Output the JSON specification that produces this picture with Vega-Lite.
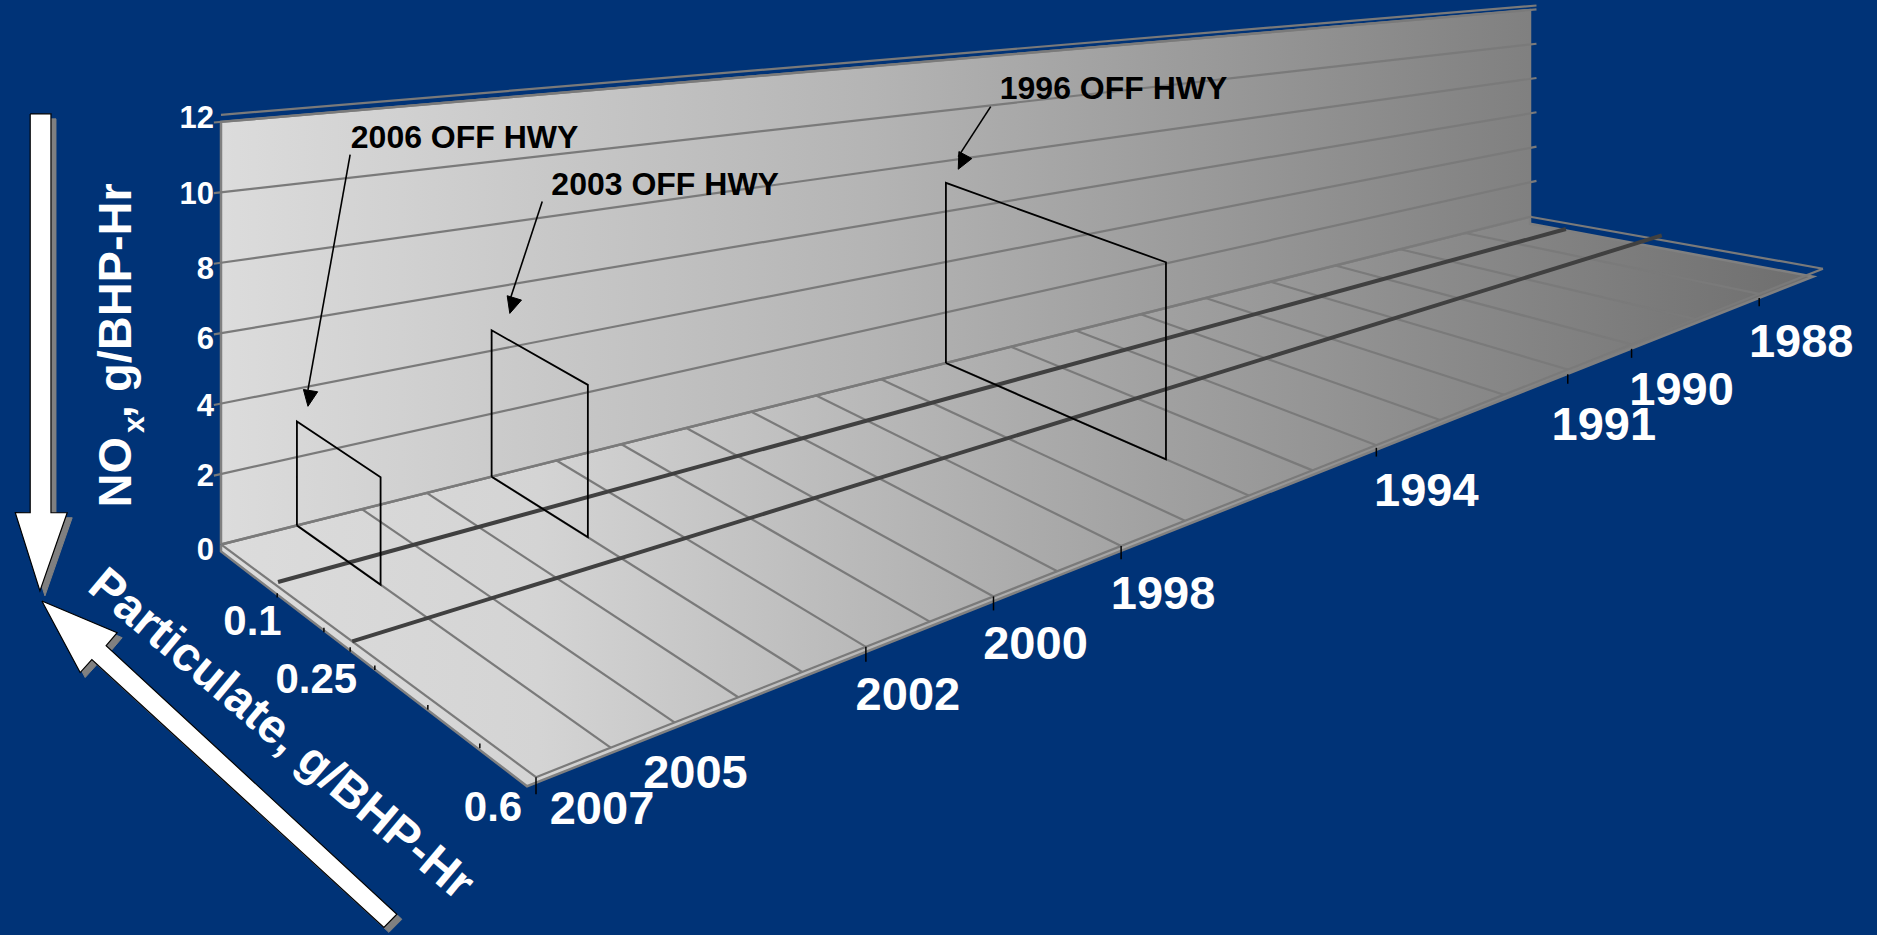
{"$schema":"https://vega.github.io/schema/vega-lite/v6.json","width":1877,"height":935,"autosize":{"type":"fit","contains":"padding"},"padding":0,"background":"#003377","config":{"view":{"stroke":null}},
"data":{"values":[
{"group":"floor","id":"f","seq":1,"year":2007.17,"pm":0,"nox":0},{"group":"floor","id":"f","seq":2,"year":2007.17,"pm":0,"nox":-0.2},{"group":"floor","id":"f","seq":3,"year":2007.31,"pm":0.6,"nox":-0.14},{"group":"floor","id":"f","seq":4,"year":1987.157,"pm":0.6,"nox":-0.2},{"group":"floor","id":"f","seq":5,"year":1987,"pm":0,"nox":-0.4},{"group":"floor","id":"f","seq":6,"year":1987,"pm":0,"nox":0},{"group":"floor","id":"f","seq":7,"year":2007.17,"pm":0,"nox":0},
{"group":"wall","id":"w","seq":1,"year":2007.17,"pm":0,"nox":0},{"group":"wall","id":"w","seq":2,"year":2007.17,"pm":0,"nox":12},{"group":"wall","id":"w","seq":3,"year":1987,"pm":0,"nox":12},{"group":"wall","id":"w","seq":4,"year":1987,"pm":0,"nox":0},{"group":"wall","id":"w","seq":5,"year":2007.17,"pm":0,"nox":0},
{"group":"grid","id":"n0","year":2007.17,"pm":0,"nox":0},{"group":"grid","id":"n0","year":1987,"pm":0,"nox":0},
{"group":"grid","id":"n2","year":2007.28,"pm":0,"nox":2},{"group":"grid","id":"n2","year":1986.9,"pm":0,"nox":2},
{"group":"grid","id":"n4","year":2007.28,"pm":0,"nox":4},{"group":"grid","id":"n4","year":1986.9,"pm":0,"nox":4},
{"group":"grid","id":"n6","year":2007.28,"pm":0,"nox":6},{"group":"grid","id":"n6","year":1986.9,"pm":0,"nox":6},
{"group":"grid","id":"n8","year":2007.28,"pm":0,"nox":8},{"group":"grid","id":"n8","year":1986.9,"pm":0,"nox":8},
{"group":"grid","id":"n10","year":2007.28,"pm":0,"nox":10},{"group":"grid","id":"n10","year":1986.9,"pm":0,"nox":10},
{"group":"grid","id":"n12","year":2007.28,"pm":0,"nox":12},{"group":"grid","id":"n12","year":1986.9,"pm":0,"nox":12},
{"group":"grid","id":"y2006","year":2006,"pm":0,"nox":0},{"group":"grid","id":"y2006","year":2006,"pm":0.6,"nox":0},
{"group":"grid","id":"y2005","year":2005,"pm":0,"nox":0},{"group":"grid","id":"y2005","year":2005,"pm":0.6,"nox":0},
{"group":"grid","id":"y2004","year":2004,"pm":0,"nox":0},{"group":"grid","id":"y2004","year":2004,"pm":0.6,"nox":0},
{"group":"grid","id":"y2003","year":2003,"pm":0,"nox":0},{"group":"grid","id":"y2003","year":2003,"pm":0.6,"nox":0},
{"group":"grid","id":"y2002","year":2002,"pm":0,"nox":0},{"group":"grid","id":"y2002","year":2002,"pm":0.6,"nox":0},
{"group":"grid","id":"y2001","year":2001,"pm":0,"nox":0},{"group":"grid","id":"y2001","year":2001,"pm":0.6,"nox":0},
{"group":"grid","id":"y2000","year":2000,"pm":0,"nox":0},{"group":"grid","id":"y2000","year":2000,"pm":0.6,"nox":0},
{"group":"grid","id":"y1999","year":1999,"pm":0,"nox":0},{"group":"grid","id":"y1999","year":1999,"pm":0.6,"nox":0},
{"group":"grid","id":"y1998","year":1998,"pm":0,"nox":0},{"group":"grid","id":"y1998","year":1998,"pm":0.6,"nox":0},
{"group":"grid","id":"y1997","year":1997,"pm":0,"nox":0},{"group":"grid","id":"y1997","year":1997,"pm":0.6,"nox":0},
{"group":"grid","id":"y1996","year":1996,"pm":0,"nox":0},{"group":"grid","id":"y1996","year":1996,"pm":0.6,"nox":0},
{"group":"grid","id":"y1995","year":1995,"pm":0,"nox":0},{"group":"grid","id":"y1995","year":1995,"pm":0.6,"nox":0},
{"group":"grid","id":"y1994","year":1994,"pm":0,"nox":0},{"group":"grid","id":"y1994","year":1994,"pm":0.6,"nox":0},
{"group":"grid","id":"y1993","year":1993,"pm":0,"nox":0},{"group":"grid","id":"y1993","year":1993,"pm":0.6,"nox":0},
{"group":"grid","id":"y1992","year":1992,"pm":0,"nox":0},{"group":"grid","id":"y1992","year":1992,"pm":0.6,"nox":0},
{"group":"grid","id":"y1991","year":1991,"pm":0,"nox":0},{"group":"grid","id":"y1991","year":1991,"pm":0.6,"nox":0},
{"group":"grid","id":"y1990","year":1990,"pm":0,"nox":0},{"group":"grid","id":"y1990","year":1990,"pm":0.6,"nox":0},
{"group":"grid","id":"y1989","year":1989,"pm":0,"nox":0},{"group":"grid","id":"y1989","year":1989,"pm":0.6,"nox":0},
{"group":"grid","id":"y1988","year":1988,"pm":0,"nox":0},{"group":"grid","id":"y1988","year":1988,"pm":0.6,"nox":0},
{"group":"grid","id":"e1","year":2007.17,"pm":0.6,"nox":0},{"group":"grid","id":"e1","year":1987,"pm":0.6,"nox":0},
{"group":"grid","id":"e2","year":2007.17,"pm":0,"nox":0},{"group":"grid","id":"e2","year":2007.17,"pm":0.6,"nox":0},
{"group":"grid","id":"e3","year":1987,"pm":0,"nox":0},{"group":"grid","id":"e3","year":1987,"pm":0.6,"nox":0},
{"group":"grid","id":"e4","year":2007.17,"pm":0,"nox":12.2},{"group":"grid","id":"e4","year":1986.9,"pm":0,"nox":12.23},
{"group":"std","id":"pm0.1","year":2007.1,"pm":0.1,"nox":0},{"group":"std","id":"pm0.1","year":1987.2,"pm":0.1,"nox":0},
{"group":"std","id":"pm0.25","year":2007.17,"pm":0.25,"nox":0},{"group":"std","id":"pm0.25","year":1986.85,"pm":0.25,"nox":0},
{"group":"box","id":"2006","seq":1,"year":2006,"pm":0,"nox":0},{"group":"box","id":"2006","seq":2,"year":2006,"pm":0,"nox":3.04},{"group":"box","id":"2006","seq":3,"year":2006,"pm":0.16,"nox":3.04},{"group":"box","id":"2006","seq":4,"year":2006,"pm":0.16,"nox":0},{"group":"box","id":"2006","seq":5,"year":2006,"pm":0,"nox":0},
{"group":"box","id":"2003","seq":1,"year":2003,"pm":0,"nox":0},{"group":"box","id":"2003","seq":2,"year":2003,"pm":0,"nox":4.65},{"group":"box","id":"2003","seq":3,"year":2003,"pm":0.186,"nox":4.65},{"group":"box","id":"2003","seq":4,"year":2003,"pm":0.186,"nox":0},{"group":"box","id":"2003","seq":5,"year":2003,"pm":0,"nox":0},
{"group":"box","id":"1996","seq":1,"year":1996,"pm":0,"nox":0},{"group":"box","id":"1996","seq":2,"year":1996,"pm":0,"nox":7.13},{"group":"box","id":"1996","seq":3,"year":1996,"pm":0.436,"nox":7.13},{"group":"box","id":"1996","seq":4,"year":1996,"pm":0.436,"nox":0},{"group":"box","id":"1996","seq":5,"year":1996,"pm":0,"nox":0},
{"group":"tick","id":"t2007","year":2007.17,"pm":0.6,"nox":0},{"group":"tick","id":"t2007","year":2007.17,"pm":0.6,"nox":-0.43},
{"group":"tick","id":"t2002","year":2002,"pm":0.6,"nox":0},{"group":"tick","id":"t2002","year":2002,"pm":0.6,"nox":-0.43},
{"group":"tick","id":"t2000","year":2000,"pm":0.6,"nox":0},{"group":"tick","id":"t2000","year":2000,"pm":0.6,"nox":-0.43},
{"group":"tick","id":"t1998","year":1998,"pm":0.6,"nox":0},{"group":"tick","id":"t1998","year":1998,"pm":0.6,"nox":-0.43},
{"group":"tick","id":"t1994","year":1994,"pm":0.6,"nox":-0.1},{"group":"tick","id":"t1994","year":1994,"pm":0.6,"nox":-0.43},
{"group":"tick","id":"t1991","year":1991,"pm":0.6,"nox":-0.2},{"group":"tick","id":"t1991","year":1991,"pm":0.6,"nox":-0.6},
{"group":"tick","id":"t1990","year":1990,"pm":0.6,"nox":-0.2},{"group":"tick","id":"t1990","year":1990,"pm":0.6,"nox":-0.6},
{"group":"tick","id":"t1988","year":1988,"pm":0.6,"nox":-0.2},{"group":"tick","id":"t1988","year":1988,"pm":0.6,"nox":-0.6},
{"group":"tick","id":"p0.1","year":2007.17,"pm":0.107,"nox":-0.2},{"group":"tick","id":"p0.1","year":2007.17,"pm":0.107,"nox":-0.32},
{"group":"tick","id":"p0.2","year":2007.17,"pm":0.196,"nox":-0.2},{"group":"tick","id":"p0.2","year":2007.17,"pm":0.196,"nox":-0.32},
{"group":"tick","id":"p0.25","year":2007.17,"pm":0.246,"nox":-0.2},{"group":"tick","id":"p0.25","year":2007.17,"pm":0.246,"nox":-0.32},
{"group":"tick","id":"p0.3","year":2007.17,"pm":0.293,"nox":-0.2},{"group":"tick","id":"p0.3","year":2007.17,"pm":0.293,"nox":-0.32},
{"group":"tick","id":"p0.4","year":2007.17,"pm":0.394,"nox":-0.2},{"group":"tick","id":"p0.4","year":2007.17,"pm":0.394,"nox":-0.32},
{"group":"tick","id":"p0.5","year":2007.17,"pm":0.493,"nox":-0.2},{"group":"tick","id":"p0.5","year":2007.17,"pm":0.493,"nox":-0.32},
{"group":"callout","id":"c2006","year":2005.18,"pm":0,"nox":10.69},{"group":"callout","id":"c2006","year":2005.83,"pm":0,"nox":3.9},
{"group":"callout","id":"c2003","year":2002.22,"pm":0,"nox":8.52},{"group":"callout","id":"c2003","year":2002.72,"pm":0,"nox":5.5},
{"group":"callout","id":"c1996","year":1995.31,"pm":0,"nox":9.95},{"group":"callout","id":"c1996","year":1995.81,"pm":0,"nox":8.1},
{"group":"head","id":"h2006","seq":1,"year":2005.83,"pm":0,"nox":3.42},{"group":"head","id":"h2006","seq":2,"year":2005.68,"pm":0,"nox":3.79},{"group":"head","id":"h2006","seq":3,"year":2005.9,"pm":0,"nox":3.94},{"group":"head","id":"h2006","seq":4,"year":2005.83,"pm":0,"nox":3.42},
{"group":"head","id":"h2003","seq":1,"year":2002.72,"pm":0,"nox":5.08},{"group":"head","id":"h2003","seq":2,"year":2002.54,"pm":0,"nox":5.44},{"group":"head","id":"h2003","seq":3,"year":2002.76,"pm":0,"nox":5.66},{"group":"head","id":"h2003","seq":4,"year":2002.72,"pm":0,"nox":5.08},
{"group":"head","id":"h1996","seq":1,"year":1995.81,"pm":0,"nox":7.6},{"group":"head","id":"h1996","seq":2,"year":1995.6,"pm":0,"nox":7.95},{"group":"head","id":"h1996","seq":3,"year":1995.8,"pm":0,"nox":8.3},{"group":"head","id":"h1996","seq":4,"year":1995.81,"pm":0,"nox":7.6},
{"group":"arrow","id":"aN","seq":1,"year":2010.11,"pm":0,"nox":12.64},{"group":"arrow","id":"aN","seq":2,"year":2009.79,"pm":0,"nox":12.6},{"group":"arrow","id":"aN","seq":3,"year":2009.79,"pm":0,"nox":1.98},{"group":"arrow","id":"aN","seq":4,"year":2009.54,"pm":0,"nox":1.88},{"group":"arrow","id":"aN","seq":5,"year":2009.96,"pm":0,"nox":-0.03},{"group":"arrow","id":"aN","seq":6,"year":2010.34,"pm":0,"nox":2.19},{"group":"arrow","id":"aN","seq":7,"year":2010.11,"pm":0,"nox":2.1},{"group":"arrow","id":"aN","seq":8,"year":2010.11,"pm":0,"nox":12.64},
{"group":"arrow","id":"aP","seq":1,"year":2009.93,"pm":0,"nox":-0.31},{"group":"arrow","id":"aP","seq":2,"year":2008.77,"pm":0,"nox":-1.7},{"group":"arrow","id":"aP","seq":3,"year":2008.94,"pm":0,"nox":-1.97},{"group":"arrow","id":"aP","seq":4,"year":2004.46,"pm":0,"nox":-12.62},{"group":"arrow","id":"aP","seq":5,"year":2004.66,"pm":0,"nox":-12.85},{"group":"arrow","id":"aP","seq":6,"year":2009.16,"pm":0,"nox":-2.24},{"group":"arrow","id":"aP","seq":7,"year":2009.34,"pm":0,"nox":-2.5},{"group":"arrow","id":"aP","seq":8,"year":2009.93,"pm":0,"nox":-0.31},
{"group":"noxC","label":"0","year":2007.17,"pm":0,"nox":0},{"group":"noxB","label":"2","year":2007.17,"pm":0,"nox":2},{"group":"noxB","label":"4","year":2007.17,"pm":0,"nox":4},{"group":"noxC","label":"6","year":2007.17,"pm":0,"nox":6},{"group":"noxC","label":"8","year":2007.17,"pm":0,"nox":8},{"group":"noxB","label":"10","year":2007.17,"pm":0,"nox":10},{"group":"noxA","label":"12","year":2007.17,"pm":0,"nox":12},
{"group":"yearA","label":"2002","year":2002,"pm":0.6,"nox":0},{"group":"yearA","label":"2000","year":2000,"pm":0.6,"nox":0},{"group":"yearA","label":"1998","year":1998,"pm":0.6,"nox":0},{"group":"yearA","label":"1988","year":1988,"pm":0.6,"nox":0},
{"group":"yearB","label":"1994","year":1994,"pm":0.6,"nox":0},{"group":"yearB","label":"1990","year":1990,"pm":0.6,"nox":0},
{"group":"yearC","label":"1991","year":1991,"pm":0.6,"nox":0},
{"group":"yearD","label":"2005","year":2005,"pm":0.6,"nox":0},
{"group":"yearE","label":"2007","year":2007.17,"pm":0.6,"nox":0},
{"group":"pmA","label":"0.1","year":2007.17,"pm":0.1,"nox":0},
{"group":"pmB","label":"0.25","year":2007.17,"pm":0.25,"nox":0},
{"group":"pmC","label":"0.6","year":2007.17,"pm":0.6,"nox":0},
{"group":"calloutText","label":"2006 OFF HWY","year":2005.17,"pm":0,"nox":11.22},
{"group":"calloutText","label":"2003 OFF HWY","year":2002.08,"pm":0,"nox":9.07},
{"group":"calloutText","label":"1996 OFF HWY","year":1995.17,"pm":0,"nox":10.68},
{"group":"titleV","label":"NO","year":2008.55,"pm":0,"nox":1.63},
{"group":"titleV","label":", g/BHP-Hr","year":2008.55,"pm":0,"nox":4.08},
{"group":"titleSub","label":"x","year":2008.35,"pm":0,"nox":3.6},
{"group":"titleD","label":"Particulate, g/BHP-Hr","year":2006.25,"pm":0,"nox":-5.98}
]},
"transform":[
{"calculate":"(2007.17-datum.year)/20.17","as":"r"},
{"calculate":"datum.pm/0.6","as":"v"},
{"calculate":"(221+1309*datum.r)*(1-datum.v)+(536+1287*datum.r)*datum.v","as":"px"},
{"calculate":"(545-328*datum.r)*(1-datum.v)+(778-509*datum.r)*datum.v-(423-216*datum.r)*(1+0.13*datum.v)*datum.nox/12","as":"py"}
],
"encoding":{
"x":{"field":"px","type":"quantitative","axis":null,"scale":{"domain":[0,1877],"nice":false,"zero":false}},
"y":{"field":"py","type":"quantitative","axis":null,"scale":{"domain":[935,0],"nice":false,"zero":false}}
},
"layer":[
{"transform":[{"filter":"datum.group==='floor'"}],"mark":{"type":"line","strokeWidth":2.5,"stroke":"#808080","fill":{"x1":0,"y1":0,"x2":1,"y2":0,"gradient":"linear","stops":[{"offset":0,"color":"#dcdcdc"},{"offset":0.2,"color":"#d4d4d4"},{"offset":0.5,"color":"#acacac"},{"offset":1,"color":"#6e6e6e"}]}},"encoding":{"order":{"field":"seq"}}},
{"transform":[{"filter":"datum.group==='wall'"}],"mark":{"type":"line","strokeWidth":2.5,"stroke":"#808080","fill":{"x1":0,"y1":0,"x2":1,"y2":0,"gradient":"linear","stops":[{"offset":0,"color":"#dcdcdc"},{"offset":0.5,"color":"#b4b4b4"},{"offset":1,"color":"#808080"}]}},"encoding":{"order":{"field":"seq"}}},
{"transform":[{"filter":"datum.group==='grid'"}],"mark":{"type":"line","stroke":"#7a7a7a","strokeWidth":2.2},"encoding":{"detail":{"field":"id"}}},
{"transform":[{"filter":"datum.group==='std'"}],"mark":{"type":"line","stroke":"#404040","strokeWidth":4},"encoding":{"detail":{"field":"id"}}},
{"transform":[{"filter":"datum.group==='box'"}],"mark":{"type":"line","stroke":"#000000","strokeWidth":1.8},"encoding":{"detail":{"field":"id"},"order":{"field":"seq"}}},
{"transform":[{"filter":"datum.group==='tick'"}],"mark":{"type":"line","stroke":"#000000","strokeWidth":1.5},"encoding":{"detail":{"field":"id"}}},
{"transform":[{"filter":"datum.group==='callout'"}],"mark":{"type":"line","stroke":"#000000","strokeWidth":1.6},"encoding":{"detail":{"field":"id"}}},
{"transform":[{"filter":"datum.group==='head'"}],"mark":{"type":"line","stroke":"#000000","strokeWidth":1,"fill":"#000000"},"encoding":{"detail":{"field":"id"},"order":{"field":"seq"}}},
{"transform":[{"filter":"datum.group==='arrow'"}],"mark":{"type":"line","stroke":"#808080","strokeWidth":1,"fill":"#808080","xOffset":5,"yOffset":5},"encoding":{"detail":{"field":"id"},"order":{"field":"seq"}}},
{"transform":[{"filter":"datum.group==='arrow'"}],"mark":{"type":"line","stroke":"#000000","strokeWidth":1.2,"fill":"#ffffff"},"encoding":{"detail":{"field":"id"},"order":{"field":"seq"}}},
{"transform":[{"filter":"datum.group==='noxA'"}],"mark":{"type":"text","font":"Liberation Sans","fontWeight":"bold","fontSize":31,"fill":"#ffffff","align":"right","baseline":"middle","dx":-7,"dy":-3},"encoding":{"text":{"field":"label"}}},
{"transform":[{"filter":"datum.group==='noxB'"}],"mark":{"type":"text","font":"Liberation Sans","fontWeight":"bold","fontSize":31,"fill":"#ffffff","align":"right","baseline":"middle","dx":-7,"dy":3},"encoding":{"text":{"field":"label"}}},
{"transform":[{"filter":"datum.group==='noxC'"}],"mark":{"type":"text","font":"Liberation Sans","fontWeight":"bold","fontSize":31,"fill":"#ffffff","align":"right","baseline":"middle","dx":-7,"dy":7},"encoding":{"text":{"field":"label"}}},
{"transform":[{"filter":"datum.group==='yearA'"}],"mark":{"type":"text","font":"Liberation Sans","fontWeight":"bold","fontSize":47,"fill":"#ffffff","align":"center","baseline":"middle","dx":42,"dy":49},"encoding":{"text":{"field":"label"}}},
{"transform":[{"filter":"datum.group==='yearB'"}],"mark":{"type":"text","font":"Liberation Sans","fontWeight":"bold","fontSize":47,"fill":"#ffffff","align":"center","baseline":"middle","dx":50,"dy":47},"encoding":{"text":{"field":"label"}}},
{"transform":[{"filter":"datum.group==='yearC'"}],"mark":{"type":"text","font":"Liberation Sans","fontWeight":"bold","fontSize":47,"fill":"#ffffff","align":"center","baseline":"middle","dx":36,"dy":56},"encoding":{"text":{"field":"label"}}},
{"transform":[{"filter":"datum.group==='yearD'"}],"mark":{"type":"text","font":"Liberation Sans","fontWeight":"bold","fontSize":47,"fill":"#ffffff","align":"center","baseline":"middle","dx":21,"dy":52},"encoding":{"text":{"field":"label"}}},
{"transform":[{"filter":"datum.group==='yearE'"}],"mark":{"type":"text","font":"Liberation Sans","fontWeight":"bold","fontSize":47,"fill":"#ffffff","align":"center","baseline":"middle","dx":66,"dy":33},"encoding":{"text":{"field":"label"}}},
{"transform":[{"filter":"datum.group==='pmA'"}],"mark":{"type":"text","font":"Liberation Sans","fontWeight":"bold","fontSize":42,"fill":"#ffffff","align":"center","baseline":"middle","dx":-21,"dy":39},"encoding":{"text":{"field":"label"}}},
{"transform":[{"filter":"datum.group==='pmB'"}],"mark":{"type":"text","font":"Liberation Sans","fontWeight":"bold","fontSize":42,"fill":"#ffffff","align":"center","baseline":"middle","dx":-36,"dy":39},"encoding":{"text":{"field":"label"}}},
{"transform":[{"filter":"datum.group==='pmC'"}],"mark":{"type":"text","font":"Liberation Sans","fontWeight":"bold","fontSize":42,"fill":"#ffffff","align":"center","baseline":"middle","dx":-43,"dy":31},"encoding":{"text":{"field":"label"}}},
{"transform":[{"filter":"datum.group==='calloutText'"}],"mark":{"type":"text","font":"Liberation Sans","fontWeight":"bold","fontSize":32,"fill":"#000000","align":"left","baseline":"middle","dy":1},"encoding":{"text":{"field":"label"}}},
{"transform":[{"filter":"datum.group==='titleV'"}],"mark":{"type":"text","font":"Liberation Sans","fontWeight":"bold","fontSize":47,"fill":"#ffffff","align":"left","baseline":"alphabetic","angle":270},"encoding":{"text":{"field":"label"}}},
{"transform":[{"filter":"datum.group==='titleSub'"}],"mark":{"type":"text","font":"Liberation Sans","fontWeight":"bold","fontSize":30,"fill":"#ffffff","align":"left","baseline":"alphabetic","angle":270},"encoding":{"text":{"field":"label"}}},
{"transform":[{"filter":"datum.group==='titleD'"}],"mark":{"type":"text","font":"Liberation Sans","fontWeight":"bold","fontSize":48,"fill":"#ffffff","align":"center","baseline":"middle","angle":40},"encoding":{"text":{"field":"label"}}}
]}
